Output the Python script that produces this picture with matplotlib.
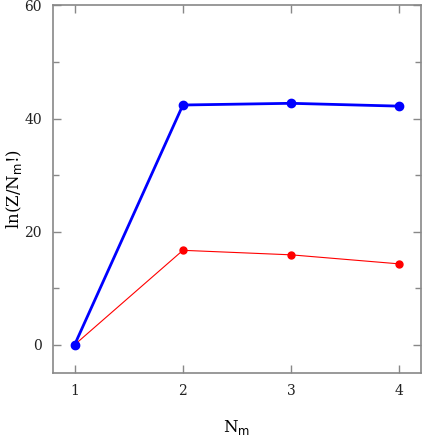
import matplotlib
matplotlib.use("Agg")
import matplotlib.pyplot as plt
from matplotlib.ticker import MultipleLocator

nm = [1, 2, 3, 4]
blue_vals = [0.0, 42.4, 42.7, 42.2]
red_vals = [0.0, 16.7, 15.9, 14.3]

plt.rcParams['font.family'] = ['DejaVu Serif']
fig = plt.figure(figsize=(4.22, 4.36), dpi=100)
ax = fig.add_axes([53/422, 1-373/436, 368/422, 367.5/436])

ax.plot(nm, red_vals, color='red', lw=0.8, marker='o', ms=5)
ax.plot(nm, blue_vals, color='blue', lw=2, marker='o', ms=6)

ax.set_xlim(0.8, 4.2)
ax.set_ylim(-5, 60)
ax.set_xticks(nm)
ax.yaxis.set_major_locator(MultipleLocator(20))
ax.yaxis.set_minor_locator(MultipleLocator(10))
gray = '#888888'
for s in ax.spines.values():
    s.set_color(gray)
    s.set_linewidth(1.2)
ax.tick_params(which='both', direction='in', top=True, right=True, color=gray,
               labelsize=10, labelcolor='#222222', width=1)
ax.tick_params(which='major', length=6, pad=8)
ax.tick_params(which='minor', length=4)
ax.set_xlabel(r'N$_\mathrm{m}$', fontsize=12, labelpad=14)
ax.set_ylabel(r'ln(Z/N$_\mathrm{m}$!)', fontsize=12, labelpad=0)
fig.savefig('out.png', dpi=100)
